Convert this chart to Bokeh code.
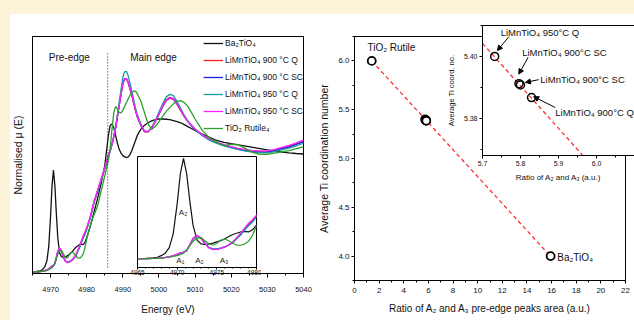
import math
from bokeh.plotting import figure
from bokeh.models import (Column, Div, Range1d, SingleIntervalTicker, FixedTicker, PrintfTickFormatter,
                          Legend, LegendItem, Arrow, NormalHead, ColumnDataSource)
from bokeh.core.properties import value
from bokeh.embed import file_html
from bokeh.resources import INLINE

FONT = "Liberation Sans"
CREAM = "#fdf3d8"

# ---------------- XANES spectra (Ti K-edge) ----------------
energy = [
    4965, 4966, 4967, 4967.5, 4968, 4968.5, 4969, 4969.5, 4970, 4970.4,
    4970.8, 4971.2, 4971.6, 4972, 4972.5, 4973, 4973.5, 4974, 4974.5, 4975,
    4975.5, 4976, 4976.5, 4977, 4977.5, 4978, 4978.5, 4979, 4979.5, 4980,
    4981, 4982, 4983, 4984, 4985, 4986, 4986.5, 4987, 4987.5, 4988,
    4988.5, 4989, 4989.5, 4990, 4990.5, 4991, 4991.5, 4992, 4992.5, 4993,
    4993.5, 4994, 4995, 4996, 4997, 4998, 4999, 5000, 5001, 5002,
    5003, 5004, 5005, 5006, 5007, 5008, 5009, 5010, 5012, 5014,
    5016, 5018, 5020, 5022, 5024, 5026, 5028, 5030, 5032, 5034,
    5036, 5038, 5040,
]

mu_ba2tio4 = [
    0.000, 0.003, 0.008, 0.012, 0.025, 0.045, 0.090, 0.200, 0.440, 0.680,
    0.805, 0.680, 0.460, 0.270, 0.150, 0.120, 0.115, 0.117, 0.125, 0.135,
    0.145, 0.160, 0.178, 0.195, 0.205, 0.215, 0.220, 0.215, 0.232, 0.270,
    0.360, 0.470, 0.580, 0.700, 0.840, 1.080, 1.160, 1.170, 1.140, 1.080,
    1.020, 0.970, 0.940, 0.920, 0.910, 0.905, 0.910, 0.930, 0.960, 1.000,
    1.040, 1.080, 1.130, 1.160, 1.180, 1.195, 1.205, 1.210, 1.210, 1.208,
    1.205, 1.198, 1.190, 1.180, 1.165, 1.150, 1.135, 1.120, 1.090, 1.065,
    1.040, 1.025, 1.015, 1.005, 0.995, 0.985, 0.975, 0.965, 0.955, 0.948,
    0.942, 0.937, 0.933,
]

mu_900q = [
    0.000, 0.000, 0.002, 0.004, 0.006, 0.010, 0.015, 0.022, 0.034, 0.044,
    0.050, 0.066, 0.112, 0.162, 0.183, 0.162, 0.122, 0.088, 0.075, 0.077,
    0.084, 0.094, 0.110, 0.131, 0.166, 0.197, 0.237, 0.272, 0.302, 0.342,
    0.432, 0.548, 0.638, 0.728, 0.818, 0.918, 0.958, 1.008, 1.068, 1.138,
    1.228, 1.318, 1.405, 1.485, 1.525, 1.525, 1.495, 1.445, 1.395, 1.335,
    1.275, 1.225, 1.158, 1.108, 1.108, 1.138, 1.188, 1.248, 1.305, 1.355,
    1.375, 1.365, 1.325, 1.278, 1.230, 1.192, 1.158, 1.128, 1.083, 1.048,
    1.022, 1.002, 0.987, 0.972, 0.962, 0.954, 0.950, 0.950, 0.962, 0.977,
    0.993, 1.013, 1.033,
]

mu_900sc = [
    0.000, 0.000, 0.002, 0.004, 0.006, 0.010, 0.015, 0.022, 0.035, 0.045,
    0.050, 0.065, 0.110, 0.160, 0.185, 0.165, 0.125, 0.090, 0.077, 0.078,
    0.085, 0.095, 0.110, 0.130, 0.165, 0.195, 0.235, 0.270, 0.300, 0.340,
    0.430, 0.550, 0.640, 0.730, 0.820, 0.920, 0.960, 1.010, 1.070, 1.140,
    1.230, 1.320, 1.410, 1.490, 1.530, 1.530, 1.500, 1.450, 1.400, 1.340,
    1.280, 1.230, 1.160, 1.110, 1.110, 1.140, 1.190, 1.250, 1.310, 1.360,
    1.380, 1.370, 1.330, 1.280, 1.230, 1.190, 1.155, 1.125, 1.080, 1.045,
    1.020, 1.000, 0.985, 0.970, 0.960, 0.952, 0.948, 0.948, 0.960, 0.975,
    0.990, 1.010, 1.030,
]

mu_950q = [
    0.000, 0.000, 0.002, 0.004, 0.006, 0.010, 0.015, 0.022, 0.035, 0.045,
    0.051, 0.066, 0.110, 0.158, 0.182, 0.166, 0.127, 0.092, 0.079, 0.079,
    0.085, 0.094, 0.108, 0.128, 0.160, 0.190, 0.230, 0.265, 0.295, 0.335,
    0.425, 0.545, 0.635, 0.725, 0.815, 0.915, 0.955, 1.010, 1.075, 1.150,
    1.245, 1.345, 1.445, 1.540, 1.585, 1.585, 1.550, 1.490, 1.430, 1.365,
    1.300, 1.245, 1.170, 1.115, 1.110, 1.145, 1.200, 1.265, 1.330, 1.385,
    1.405, 1.395, 1.350, 1.295, 1.240, 1.195, 1.158, 1.127, 1.080, 1.043,
    1.017, 0.997, 0.982, 0.967, 0.956, 0.948, 0.943, 0.942, 0.952, 0.966,
    0.980, 0.998, 1.018,
]

mu_950sc = [
    0.000, 0.000, 0.002, 0.004, 0.007, 0.011, 0.017, 0.025, 0.038, 0.048,
    0.053, 0.070, 0.115, 0.165, 0.188, 0.168, 0.126, 0.088, 0.074, 0.075,
    0.083, 0.095, 0.112, 0.135, 0.170, 0.205, 0.245, 0.285, 0.315, 0.350,
    0.440, 0.555, 0.645, 0.735, 0.825, 0.925, 0.963, 1.012, 1.070, 1.140,
    1.230, 1.320, 1.405, 1.485, 1.525, 1.528, 1.500, 1.452, 1.402, 1.342,
    1.282, 1.232, 1.162, 1.112, 1.112, 1.142, 1.192, 1.252, 1.312, 1.362,
    1.382, 1.372, 1.333, 1.283, 1.233, 1.193, 1.160, 1.130, 1.086, 1.052,
    1.027, 1.007, 0.992, 0.978, 0.968, 0.960, 0.957, 0.958, 0.970, 0.986,
    1.002, 1.022, 1.042,
]

mu_rutile = [
    0.000, 0.000, 0.002, 0.003, 0.005, 0.008, 0.012, 0.018, 0.025, 0.032,
    0.045, 0.070, 0.105, 0.140, 0.165, 0.170, 0.145, 0.120, 0.108, 0.125,
    0.150, 0.158, 0.145, 0.125, 0.110, 0.108, 0.118, 0.140, 0.190, 0.260,
    0.370, 0.450, 0.520, 0.640, 0.760, 0.880, 0.980, 1.130, 1.260, 1.310,
    1.290, 1.262, 1.258, 1.280, 1.310, 1.340, 1.370, 1.400, 1.420, 1.430,
    1.430, 1.410, 1.350, 1.260, 1.170, 1.130, 1.150, 1.190, 1.230, 1.270,
    1.300, 1.330, 1.350, 1.355, 1.340, 1.310, 1.260, 1.210, 1.120, 1.060,
    1.025, 1.000, 1.010, 1.005, 0.975, 0.945, 0.930, 0.930, 0.940, 0.950,
    0.960, 0.975, 0.990,
]

series_names = ["Ba₂TiO₄", "LiMnTiO₄ 900 °C Q", "LiMnTiO₄ 900 °C SC",
                "LiMnTiO₄ 950 °C Q", "LiMnTiO₄ 950 °C SC", "TiO₂ Rutile₄"]
series_values = [mu_ba2tio4, mu_900q, mu_900sc, mu_950q, mu_950sc, mu_rutile]
series_colors = ["#111111", "#ff1a1a", "#2020e8", "#1a9c9c", "#ff22ff", "#2f9e2f"]

# ---------------- coordination vs. ratio ----------------
sample_names = ["TiO₂ Rutile", "LiMnTiO₄ 950 °C Q", "LiMnTiO₄ 900 °C SC",
                "LiMnTiO₄ 900 °C SC", "LiMnTiO₄ 900 °C Q", "Ba₂TiO₄"]
peak_ratio = [1.40, 5.732, 5.796, 5.800, 5.829, 15.92]
coord_number = [6.00, 5.4000, 5.3912, 5.3908, 5.3867, 4.00]
fit_x = [1.40, 15.90]
fit_y = [6.00, 4.00]
inset_fit_x = [5.70, 5.97]
inset_fit_y = [5.4042, 5.3672]

inset_ratio = [5.732, 5.796, 5.800, 5.829]
inset_coord = [5.4000, 5.3912, 5.3908, 5.3867]
inset_labels = ["LiMnTiO₄ 950°C Q", "LiMnTiO₄ 900°C SC", "LiMnTiO₄ 900°C SC", "LiMnTiO₄ 900°C Q"]


def style_axis(ax, tick_size, label_size, tick_out=3, minor_out=2, standoff=3, label_standoff=6):
    ax.axis_line_color = "black"
    ax.axis_line_width = 1
    ax.major_tick_line_color = "black"
    ax.minor_tick_line_color = "black"
    ax.major_tick_in = 0
    ax.major_tick_out = tick_out
    ax.minor_tick_in = 0
    ax.minor_tick_out = minor_out
    ax.major_label_text_font = FONT
    ax.major_label_text_font_size = tick_size
    ax.major_label_text_color = "#111111"
    ax.major_label_standoff = standoff
    ax.axis_label_text_font = FONT
    ax.axis_label_text_font_size = label_size
    ax.axis_label_text_font_style = "normal"
    ax.axis_label_text_color = "#111111"
    ax.axis_label_standoff = label_standoff


def base_fig(**kw):
    p = figure(output_backend="svg", toolbar_location=None, **kw)
    p.grid.visible = False
    p.outline_line_color = "black"
    p.outline_line_width = 1
    p.outline_line_alpha = 1
    p.background_fill_color = "white"
    p.border_fill_alpha = 0
    return p


# every frame gets a 40 px left border; canvases are placed so frames land where needed
LB = 40

# ---------------- left main panel ----------------
left = base_fig(frame_width=271, frame_height=237, min_border_left=LB, min_border_right=15,
                min_border_top=27, min_border_bottom=47,
                x_range=Range1d(4965, 5040), y_range=Range1d(-0.013, 1.863))
items = []
for name, ys, col in zip(series_names, series_values, series_colors):
    r = left.line(energy, ys, line_color=col, line_width=1.3)
    items.append(LegendItem(label=name, renderers=[r]))
legend = Legend(items=items, location="top_right", label_text_font=FONT,
                label_text_font_size="8.5px", label_text_color="#111111",
                glyph_width=20, glyph_height=14, label_height=14, spacing=3,
                padding=0, margin=0, label_standoff=2,
                background_fill_alpha=0, border_line_alpha=0)
left.add_layout(legend)

left.segment(x0=[4985.8], y0=[0.035], x1=[4985.8], y1=[1.74], line_color="#222222",
             line_width=1, line_dash="1 2")
left.text(x=[4975.2, 4998.5], y=[1.70, 1.70], text=["Pre-edge", "Main edge"],
          text_font=value(FONT), text_font_size="10px", text_color="#111111",
          text_align="center", text_baseline="middle")

xa = left.xaxis[0]
xa.ticker = SingleIntervalTicker(interval=10, num_minor_ticks=2)
xa.axis_label = "Energy (eV)"
style_axis(xa, "7.5px", "10px", tick_out=4, minor_out=2, standoff=9, label_standoff=9)
ya = left.yaxis[0]
ya.ticker = FixedTicker(ticks=[])
ya.axis_label = "Normalised μ (E)"
style_axis(ya, "7.5px", "10.5px", tick_out=0, minor_out=0, standoff=0, label_standoff=9)

# ---------------- left inset ----------------
lin = base_fig(frame_width=119, frame_height=111, min_border_left=LB, min_border_right=5,
               min_border_top=5, min_border_bottom=14, y_axis_location=None,
               x_range=Range1d(4965, 4980), y_range=Range1d(-0.07, 0.82))
for ys, col in zip(series_values, series_colors):
    lin.line(energy, ys, line_color=col, line_width=1.2)
lin.text(x=[4970.74, 4970.4, 4972.8, 4975.9], y=[0.371, -0.016, -0.016, -0.016],
         text=["A₂", "A₁", "A₂", "A₃"], text_font=value(FONT), text_font_size="8px",
         text_color="#222222", text_align="center", text_baseline="middle")
lxa = lin.xaxis[0]
lxa.ticker = SingleIntervalTicker(interval=5, num_minor_ticks=5)
style_axis(lxa, "6.5px", "7px", tick_out=2, minor_out=1, standoff=0)

# ---------------- right main panel ----------------
right = base_fig(frame_width=271, frame_height=244, min_border_left=LB, min_border_right=9,
                 min_border_top=27, min_border_bottom=40,
                 x_range=Range1d(0, 22), y_range=Range1d(3.75, 6.25))
right.line(fit_x, fit_y, line_color="#ff3030", line_width=1.3, line_dash="4 3")
right.scatter(peak_ratio, coord_number, marker="circle", size=8, line_color="black",
              line_width=1.8, fill_color="white")
right.text(x=[1.05, 16.46], y=[6.14, 3.985], text=[sample_names[0], sample_names[-1]],
           text_font=value(FONT), text_font_size="10px", text_color="#111111",
           text_align="left", text_baseline="middle")
rxa = right.xaxis[0]
rxa.ticker = SingleIntervalTicker(interval=2, num_minor_ticks=2)
rxa.axis_label = "Ratio of A₂ and A₃ pre-edge peaks area (a.u.)"
style_axis(rxa, "8px", "10px", tick_out=3, minor_out=2, standoff=4, label_standoff=7)
rya = right.yaxis[0]
rya.ticker = SingleIntervalTicker(interval=0.5, num_minor_ticks=2)
rya.formatter = PrintfTickFormatter(format="%.1f")
rya.axis_label = "Average Ti coordination number"
style_axis(rya, "8px", "10.5px", tick_out=3, minor_out=2, standoff=2, label_standoff=5)

# ---------------- right inset ----------------
rin = base_fig(frame_width=152, frame_height=130, min_border_left=LB, min_border_right=10,
               min_border_top=10, min_border_bottom=32,
               x_range=Range1d(5.7, 6.1), y_range=Range1d(5.368, 5.41))
rin.line(inset_fit_x, inset_fit_y, line_color="#ff3030", line_width=1.3, line_dash="4 3")
rin.scatter(inset_ratio, inset_coord, marker="circle", size=8, line_color="black",
            line_width=1.5, fill_color="white", fill_alpha=0)
lab_x = [5.7478, 5.8044, 5.8522, 5.8914]
lab_y = [5.4076, 5.4013, 5.3925, 5.3819]
rin.text(x=lab_x, y=lab_y, text=inset_labels, text_font=value(FONT), text_font_size="9.5px",
         text_color="#111111", text_align="left", text_baseline="middle")
arrows = ColumnDataSource(dict(
    x0=[5.7695, 5.8201, 5.8478, 5.8914],
    y0=[5.4064, 5.3997, 5.3925, 5.3835],
    x1=[5.7392, 5.7956, 5.8131, 5.8347],
    y1=[5.4019, 5.3943, 5.3916, 5.3870],
))
rin.add_layout(Arrow(end=NormalHead(size=5, fill_color="black", line_color="black", line_width=1),
                     source=arrows, x_start="x0", y_start="y0", x_end="x1", y_end="y1",
                     line_color="black", line_width=1))
ixa = rin.xaxis[0]
ixa.ticker = SingleIntervalTicker(interval=0.1, num_minor_ticks=2)
ixa.formatter = PrintfTickFormatter(format="%.1f")
ixa.axis_label = "Ratio of A₂ and A₃ (a.u.)"
style_axis(ixa, "7px", "8px", tick_out=3, minor_out=2, standoff=2, label_standoff=4)
iya = rin.yaxis[0]
iya.ticker = SingleIntervalTicker(interval=0.02, num_minor_ticks=2)
iya.formatter = PrintfTickFormatter(format="%.2f")
iya.axis_label = "Average Ti coord. no."
style_axis(iya, "7px", "7.5px", tick_out=3, minor_out=2, standoff=2, label_standoff=5)

# ---------------- composition ----------------
white = Div(text="", width=629, height=311,
            styles={"position": "absolute", "left": "5px", "top": "9px", "background-color": "white"})
left.styles = {"position": "absolute", "left": f"{32 - LB}px", "top": "9px"}
right.styles = {"position": "absolute", "left": f"{354 - LB}px", "top": "9px"}
lin.styles = {"position": "absolute", "left": f"{137 - LB}px", "top": "151px"}
rin.styles = {"position": "absolute", "left": f"{482 - LB}px", "top": "15px"}

root = Column(children=[white, left, right, lin, rin], width=634, height=320, sizing_mode="fixed",
              styles={"position": "relative", "background-color": CREAM, "overflow": "hidden"})

open("out.html", "w").write(file_html(root, INLINE, "XANES"))
